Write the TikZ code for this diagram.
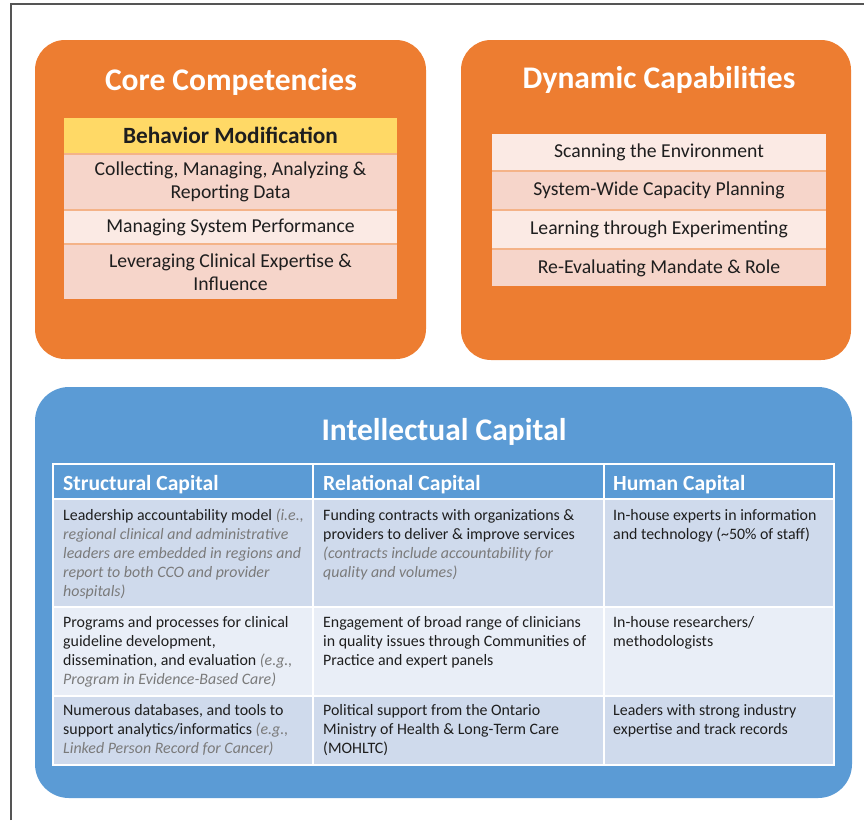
\documentclass[tikz,border=0pt]{standalone}
\usepackage{fontspec}
\setmainfont{Carlito}
\definecolor{orangefill}{HTML}{ED7D31}
\definecolor{bluefill}{HTML}{5B9BD5}
\definecolor{yellowrow}{HTML}{FFD966}
\definecolor{pinkrow}{HTML}{F6D5CA}
\definecolor{palerow}{HTML}{FBEAE4}
\definecolor{rowgap}{HTML}{F4B388}
\definecolor{bluerowA}{HTML}{CFDAEC}
\definecolor{bluerowB}{HTML}{E9EEF7}
\definecolor{textdark}{HTML}{1E1E1E}
\definecolor{notegray}{HTML}{7A7A7A}
\definecolor{framegray}{HTML}{555555}
\newcommand{\note}[1]{{\color{notegray}\itshape #1}}
\tikzset{
  panel/.style={fill=#1, rounded corners=30pt, inner sep=0pt},
  paneltitle/.style={text=white, font=\bfseries\fontsize{31.5}{36}\selectfont, inner sep=0pt},
  listrow/.style={fill=#1, minimum width=333pt, inner sep=0pt, align=center,
    text=textdark, font=\fontsize{19.7}{23}\selectfont},
  cellbox/.style={fill=#1, draw=white, line width=2pt, inner sep=0pt},
  headtext/.style={anchor=base west, inner sep=0pt, text=white, font=\bfseries\fontsize{21.6}{25}\selectfont},
  celltext/.style={anchor=base west, inner sep=0pt, text=textdark, font=\fontsize{15.9}{19}\selectfont},
}
\newcommand{\celllines}[2]{\parbox[t]{#1}{\raggedright #2}}
\begin{document}
\begin{tikzpicture}[x=1pt,y=-1pt]
\useasboundingbox (0,0) rectangle (864,820);
\draw[framegray, line width=1.4pt] (11,820) -- (11,4) -- (864,4);

% ---- Core Competencies panel ----
\node[panel=orangefill, minimum width=391pt, minimum height=319pt] (core) at (230.5,199.5) {};
\node[paneltitle] (coretitle) at (231,82) {Core Competencies};
\fill[rowgap] (64,153) rectangle (397,245);
\node[listrow=yellowrow, minimum height=35pt, font=\bfseries\fontsize{23.3}{26}\selectfont] (cc1) at (230.5,135.5) {Behavior Modification};
\node[listrow=pinkrow, minimum height=54pt] (cc2) at (230.5,182) {Collecting, Managing, Analyzing \&\\Reporting Data};
\node[listrow=palerow, minimum height=32pt] (cc3) at (230.5,227) {Managing System Performance};
\node[listrow=pinkrow, minimum height=54pt] (cc4) at (230.5,272) {Leveraging Clinical Expertise \&\\Influence};

% ---- Dynamic Capabilities panel ----
\node[panel=orangefill, minimum width=390pt, minimum height=320pt] (dyn) at (656,200) {};
\node[paneltitle] (dyntitle) at (659,80) {Dynamic Capabilities};
\fill[rowgap] (492,170) rectangle (826,250);
\node[listrow=palerow, minimum width=334pt, minimum height=36pt] (dc1) at (659,152) {Scanning the Environment};
\node[listrow=pinkrow, minimum width=334pt, minimum height=37pt] (dc2) at (659,190.5) {System-Wide Capacity Planning};
\node[listrow=palerow, minimum width=334pt, minimum height=37pt] (dc3) at (659,229.5) {Learning through Experimenting};
\node[listrow=pinkrow, minimum width=334pt, minimum height=36pt] (dc4) at (659,268) {Re-Evaluating Mandate \& Role};

% ---- Intellectual Capital panel ----
\node[panel=bluefill, rounded corners=34pt, minimum width=817pt, minimum height=411pt] (ic) at (443.5,592.5) {};
\node[paneltitle] (ictitle) at (444,432) {Intellectual Capital};

% table cells
\draw[cellbox=bluefill] (53,464) rectangle (313,499);
\draw[cellbox=bluefill] (313,464) rectangle (604,499);
\draw[cellbox=bluefill] (604,464) rectangle (834,499);
\draw[cellbox=bluerowA] (53,499) rectangle (313,607);
\draw[cellbox=bluerowA] (313,499) rectangle (604,607);
\draw[cellbox=bluerowA] (604,499) rectangle (834,607);
\draw[cellbox=bluerowB] (53,607) rectangle (313,696);
\draw[cellbox=bluerowB] (313,607) rectangle (604,696);
\draw[cellbox=bluerowB] (604,607) rectangle (834,696);
\draw[cellbox=bluerowA] (53,696) rectangle (313,765);
\draw[cellbox=bluerowA] (313,696) rectangle (604,765);
\draw[cellbox=bluerowA] (604,696) rectangle (834,765);

% header texts
\node[headtext] (h1) at (63,490) {Structural Capital};
\node[headtext] (h2) at (323,490) {Relational Capital};
\node[headtext] (h3) at (613,490) {Human Capital};

% row 1
\node[celltext] (r1c1) at (63,520) {\celllines{248pt}{Leadership accountability model \note{(i.e.,}\\
\note{regional clinical and administrative}\\
\note{leaders are embedded in regions and}\\
\note{report to both CCO and provider}\\
\note{hospitals)}}};
\node[celltext] (r1c2) at (323,520) {\celllines{278pt}{Funding contracts with organizations \&\\
providers to deliver \& improve services\\
\note{(contracts include accountability for}\\
\note{quality and volumes)}}};
\node[celltext] (r1c3) at (613,520) {\celllines{220pt}{In-house experts in information\\
and technology (\textasciitilde 50\% of staff)}};

% row 2
\node[celltext] (r2c1) at (63,627) {\celllines{248pt}{Programs and processes for clinical\\
guideline development,\\
dissemination, and evaluation \note{(e.g.,}\\
\note{Program in Evidence-Based Care)}}};
\node[celltext] (r2c2) at (323,627) {\celllines{278pt}{Engagement of broad range of clinicians\\
in quality issues through Communities of\\
Practice and expert panels}};
\node[celltext] (r2c3) at (613,627) {\celllines{220pt}{In-house researchers/\\
methodologists}};

% row 3
\node[celltext] (r3c1) at (63,715) {\celllines{248pt}{Numerous databases, and tools to\\
support analytics/informatics \note{(e.g.,}\\
\note{Linked Person Record for Cancer)}}};
\node[celltext] (r3c2) at (323,715) {\celllines{278pt}{Political support from the Ontario\\
Ministry of Health \& Long-Term Care\\
(MOHLTC)}};
\node[celltext] (r3c3) at (613,715) {\celllines{220pt}{Leaders with strong industry\\
expertise and track records}};
\end{tikzpicture}
\end{document}
